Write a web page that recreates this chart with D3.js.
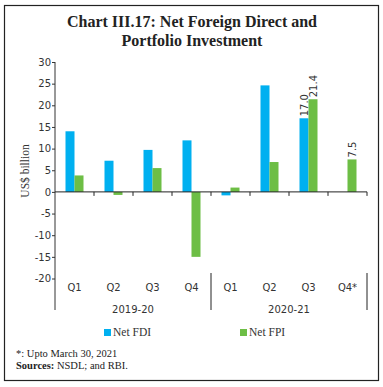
<!DOCTYPE html>
<html><head><meta charset="utf-8">
<script src="https://cdn.jsdelivr.net/npm/d3@7"></script>
<style>body{margin:0;background:#fff}svg{display:block}</style>
</head><body>
<script>
const quarters = ["Q1","Q2","Q3","Q4","Q1","Q2","Q3","Q4*"];
const years = ["2019-20","2020-21"];
const netFDI = [14.0, 7.2, 9.7, 11.9, -0.8, 24.6, 17.0, null];
const netFPI = [3.8, -0.7, 5.5, -15.0, 1.0, 6.9, 21.4, 7.5];
const labelled = {fdi:[6], fpi:[6,7]};
const yTicks = [-20,-15,-10,-5,0,5,10,15,20,25,30];
const seriesNames = ["Net FDI","Net FPI"];
const colors = ["#00B0F0","#6DBE45"];

const W=383,H=387;
const svg=d3.select("body").append("svg").attr("width",W).attr("height",H);
svg.append("rect").attr("x",4.5).attr("y",5.5).attr("width",374).attr("height",375)
  .attr("fill","none").attr("stroke","#222").attr("stroke-width",1.2);

svg.append("text").attr("x",192).attr("y",27).attr("text-anchor","middle")
  .attr("font-family","Liberation Serif, serif").attr("font-weight","bold").attr("font-size",16)
  .attr("fill","#222").text("Chart III.17: Net Foreign Direct and");
svg.append("text").attr("x",192).attr("y",46).attr("text-anchor","middle")
  .attr("font-family","Liberation Serif, serif").attr("font-weight","bold").attr("font-size",16)
  .attr("fill","#222").text("Portfolio Investment");

const x0=55,x1=367;
const idx=d3.range(quarters.length);
const x=d3.scaleBand().domain(idx).range([x0,x1]).padding(0);
const y=d3.scaleLinear().domain([-20,30]).range([278.5,62]);
const inner=d3.scaleBand().domain([0,1]).range([0,18]);

const sans="DejaVu Sans, Verdana, sans-serif";
// y axis
const ya=svg.append("g").attr("transform",`translate(${x0},0)`)
  .call(d3.axisLeft(y).tickValues(yTicks).tickFormat(d=>String(d)).tickSize(3).tickSizeOuter(0));
ya.select(".domain").remove();
ya.selectAll("text").attr("font-family",sans).attr("font-size",10).attr("fill","#333").attr("x",-4);
ya.selectAll("line").attr("stroke","#333");
svg.append("line").attr("x1",x0).attr("x2",x0).attr("y1",62).attr("y2",310).attr("stroke","#333");

svg.append("text").attr("transform",`translate(29,171) rotate(-90)`).attr("text-anchor","middle")
  .attr("font-family","Liberation Serif, serif").attr("font-size",11.5).attr("fill","#333").text("US$ billion");

// bars
const g=svg.append("g");
[netFDI,netFPI].forEach((vals,s)=>{
  g.selectAll(null).data(idx.filter(i=>vals[i]!=null)).enter().append("rect")
    .attr("x",i=>x(i)+x.bandwidth()/2-9+inner(s))
    .attr("width",inner.bandwidth())
    .attr("y",i=>y(Math.max(0,vals[i])))
    .attr("height",i=>Math.abs(y(vals[i])-y(0)))
    .attr("fill",colors[s]);
});
// labels
[["fdi",netFDI,0],["fpi",netFPI,1]].forEach(([k,vals,s])=>{
  labelled[k].forEach(i=>{
    const cx=x(i)+x.bandwidth()/2-9+inner(s)+inner.bandwidth()/2;
    svg.append("text").attr("transform",`translate(${cx+3.5},${y(vals[i])-2}) rotate(-90)`)
      .attr("font-family",sans).attr("font-size",10).attr("fill","#333").text(vals[i].toFixed(1));
  });
});

// x axis at zero
const z=y(0);
svg.append("line").attr("x1",x0).attr("x2",x1).attr("y1",z).attr("y2",z).attr("stroke","#222");
idx.forEach(i=>{
  const xb=x(i)+x.bandwidth();
  svg.append("line").attr("x1",xb).attr("x2",xb).attr("y1",z).attr("y2",z+4).attr("stroke","#222");
});
svg.selectAll(null).data(idx).enter().append("text")
  .attr("x",i=>x(i)+x.bandwidth()/2).attr("y",291).attr("text-anchor","middle")
  .attr("font-family",sans).attr("font-size",10).attr("fill","#333").text(i=>quarters[i]);
years.forEach((yr,k)=>{
  const a=x(k*4), b=x(k*4+3)+x.bandwidth();
  svg.append("text").attr("x",(a+b)/2).attr("y",313).attr("text-anchor","middle")
    .attr("font-family",sans).attr("font-size",10).attr("fill","#333").text(yr);
  svg.append("line").attr("x1",b).attr("x2",b).attr("y1",273).attr("y2",310).attr("stroke","#222");
});

// legend
const lg=[[104,113],[240,249]];
seriesNames.forEach((n,s)=>{
  svg.append("rect").attr("x",lg[s][0]).attr("y",329).attr("width",7).attr("height",7).attr("fill",colors[s]);
  svg.append("text").attr("x",lg[s][1]).attr("y",336).attr("font-family","Liberation Serif, serif")
    .attr("font-size",11.5).attr("fill","#333").text(n);
});
// footnotes
svg.append("text").attr("x",16).attr("y",357).attr("font-family","Liberation Serif, serif")
  .attr("font-size",10.5).attr("fill","#222").text("*: Upto March 30, 2021");
const ft=svg.append("text").attr("x",16).attr("y",369).attr("font-family","Liberation Serif, serif")
  .attr("font-size",10.5).attr("fill","#222");
ft.append("tspan").attr("font-weight","bold").text("Sources:");
ft.append("tspan").text(" NSDL; and RBI.");
</script>
</body></html>
